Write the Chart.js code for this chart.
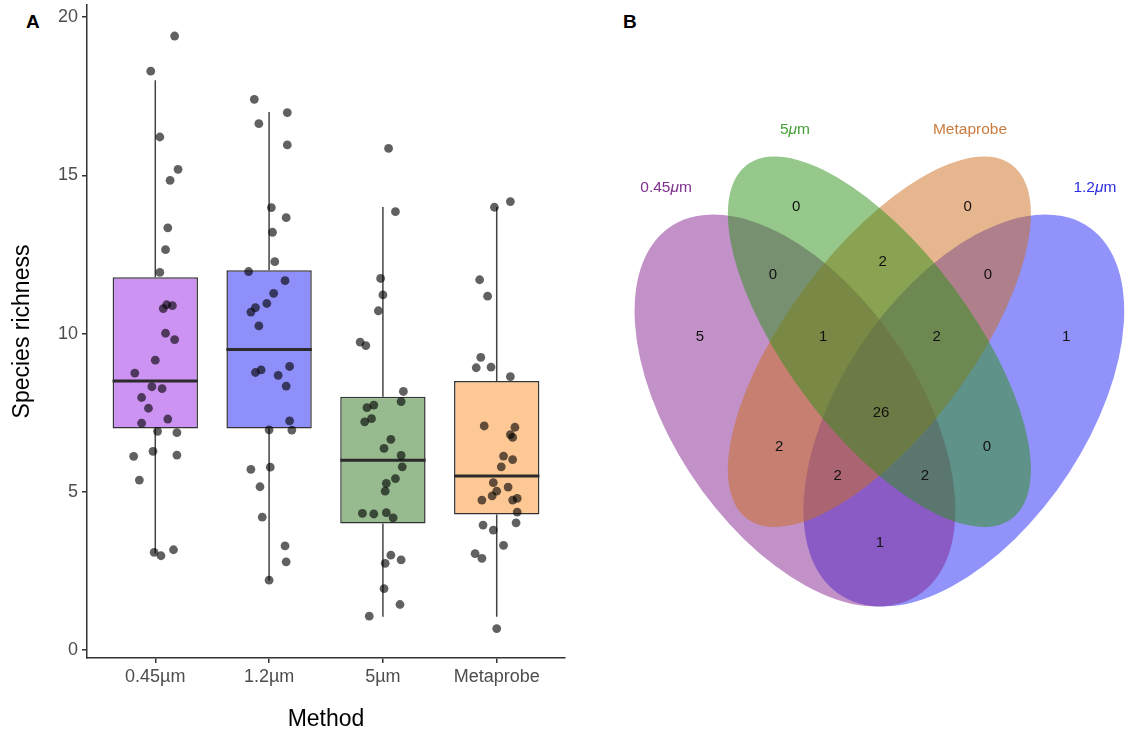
<!DOCTYPE html>
<html>
<head>
<meta charset="utf-8">
<script src="https://cdn.jsdelivr.net/npm/chart.js@4.4.1/dist/chart.umd.min.js"></script>
<style>
  body { margin: 0; background: #fff; width: 1129px; height: 733px; overflow: hidden; position: relative; font-family: "Liberation Sans", Arial, sans-serif; }
  canvas { position: absolute; top: 0; }
  #boxes { left: 0; }
  #venn { left: 598px; }
  .tag { position: absolute; font-weight: bold; font-size: 19px; color: #000; }
</style>
</head>
<body>
<div class="tag" style="left:26px;top:11px">A</div>
<div class="tag" style="left:623px;top:11px">B</div>
<canvas id="boxes" width="600" height="733"></canvas>
<canvas id="venn" width="531" height="733"></canvas>
<script>
const FONT = '"Liberation Sans", Arial, sans-serif';

// ---- panel A : species richness per method ----
const methods = ['0.45µm', '1.2µm', '5µm', 'Metaprobe'];
const yTicks = [0, 5, 10, 15, 20];

const boxQ1 = [7, 7, 4, 4.28];
const boxMedian = [8.5, 9.5, 6, 5.5];
const boxQ3 = [11.78, 12, 8, 8.5];
const whiskerLow = [3.05, 2.2, 1.05, 1.05];
const whiskerHigh = [18, 17, 14, 14];
const boxFill = ['#cd93f3', '#8e8ff9', '#97ba8f', '#fdc894'];

// sample values and their horizontal jitter (in category units)
const rich045 = [19.40, 18.29, 16.21, 15.19, 14.84, 13.34, 12.65, 11.93, 10.91, 10.88, 10.79, 10.01, 9.81, 9.16, 8.75, 8.32, 8.26, 7.98, 7.64, 7.17, 7.30, 6.91, 6.87, 6.28, 6.16, 6.12, 5.37, 3.09, 2.98, 3.17];
const jit045 = [0.17, -0.04, 0.04, 0.20, 0.13, 0.11, 0.09, 0.04, 0.10, 0.15, 0.07, 0.09, 0.17, 0.00, -0.18, -0.03, 0.06, -0.12, -0.06, -0.12, 0.11, 0.02, 0.19, -0.02, 0.19, -0.19, -0.14, -0.01, 0.05, 0.16];

const rich12 = [17.40, 16.98, 16.63, 15.96, 13.98, 13.66, 13.20, 12.27, 11.96, 11.67, 11.27, 10.95, 10.82, 10.68, 10.24, 8.96, 8.85, 8.77, 8.68, 8.34, 7.24, 6.96, 6.95, 5.71, 5.78, 5.16, 4.20, 3.29, 2.79, 2.21];
const jit12 = [-0.13, 0.16, -0.09, 0.16, 0.02, 0.15, 0.03, 0.05, -0.18, 0.14, 0.04, -0.02, -0.12, -0.16, -0.09, 0.18, -0.07, -0.12, 0.08, 0.15, 0.18, 0.00, 0.20, -0.16, 0.01, -0.08, -0.06, 0.14, 0.15, 0.00];

const rich5 = [15.85, 13.85, 11.74, 11.22, 10.72, 9.73, 9.62, 8.17, 7.85, 7.74, 7.66, 7.31, 7.21, 6.66, 6.37, 6.15, 5.79, 5.42, 5.27, 5.02, 4.32, 4.30, 4.34, 4.18, 3.00, 2.85, 2.74, 1.94, 1.44, 1.07];
const jit5 = [0.05, 0.11, -0.02, 0.00, -0.04, -0.20, -0.15, 0.18, 0.16, -0.08, -0.14, -0.10, -0.16, 0.07, 0.01, 0.16, 0.17, 0.11, 0.03, 0.02, -0.18, -0.08, 0.03, 0.09, 0.07, 0.16, 0.02, 0.01, 0.15, -0.12];

const richMeta = [14.17, 13.99, 11.70, 11.18, 9.25, 8.92, 8.94, 8.64, 7.08, 7.04, 6.81, 6.72, 6.13, 6.02, 5.79, 5.29, 5.15, 5.02, 4.87, 4.74, 4.74, 4.79, 4.36, 3.95, 4.02, 3.79, 3.31, 3.05, 2.90, 0.68];
const jitMeta = [0.12, -0.02, -0.15, -0.08, -0.14, -0.18, -0.05, 0.12, -0.11, 0.16, 0.12, 0.14, 0.06, 0.14, 0.04, -0.03, 0.10, 0.00, -0.04, -0.13, 0.14, 0.18, 0.18, -0.12, 0.17, -0.03, 0.06, -0.19, -0.13, 0.00];

const groups = [[rich045, jit045], [rich12, jit12], [rich5, jit5], [richMeta, jitMeta]];

// ---- panel B : shared species ----
const vennSets = ['0.45μm', '5μm', 'Metaprobe', '1.2μm'];
const vennSetColor = ['#80318f', '#44a035', '#c97c40', '#2b2be3'];
const vennFill = ['rgba(131,35,145,0.5)', 'rgba(45,145,25,0.5)', 'rgba(205,109,29,0.5)', 'rgba(35,39,245,0.5)'];
// region order: 0.45, 5, Meta, 1.2, 0.45+5, 5+Meta, Meta+1.2, 0.45+5+Meta, 5+Meta+1.2, all, 0.45+Meta, 5+1.2, 0.45+Meta+1.2, 0.45+5+1.2, 0.45+1.2
const vennCounts = [5, 0, 0, 1, 0, 2, 0, 1, 2, 26, 2, 0, 2, 2, 1];

// layout of the diagram (unit square of the venn panel)
const countPos = [[0.181, 0.577], [0.352, 0.766], [0.657, 0.766], [0.832, 0.577], [0.311, 0.667], [0.506, 0.686], [0.693, 0.667],
  [0.400, 0.577], [0.602, 0.577], [0.503, 0.466], [0.322, 0.417], [0.691, 0.417], [0.426, 0.375], [0.581, 0.375], [0.501, 0.277]];
const setLabelPos = [[0.121, 0.794], [0.350, 0.878], [0.661, 0.878], [0.883, 0.794]];
const ellipses = [
  { cx: 0.35, cy: 0.47, a: 0.35, b: 0.20, rot: -45 },
  { cx: 0.50, cy: 0.57, a: 0.35, b: 0.15, rot: -45 },
  { cx: 0.50, cy: 0.57, a: 0.35, b: 0.15, rot: 45 },
  { cx: 0.65, cy: 0.47, a: 0.35, b: 0.20, rot: 45 }
];
const drawOrder = [3, 0, 2, 1];

/* whiskers under the boxes, medians on top of them */
const boxPlugin = {
  id: 'boxParts',
  beforeDatasetsDraw(chart) {
    const { ctx, scales: { x, y } } = chart;
    ctx.save();
    ctx.strokeStyle = '#444';
    ctx.lineWidth = 1.5;
    methods.forEach((m, i) => {
      const px = x.getPixelForValue(i);
      ctx.beginPath();
      ctx.moveTo(px, y.getPixelForValue(boxQ3[i]));
      ctx.lineTo(px, y.getPixelForValue(whiskerHigh[i]));
      ctx.moveTo(px, y.getPixelForValue(boxQ1[i]));
      ctx.lineTo(px, y.getPixelForValue(whiskerLow[i]));
      ctx.stroke();
    });
    ctx.restore();
  },
  afterDatasetDraw(chart, args) {
    if (args.index !== 0) return;
    const { ctx, scales: { x, y } } = chart;
    ctx.save();
    ctx.strokeStyle = '#2b2b2b';
    ctx.lineWidth = 3;
    methods.forEach((m, i) => {
      const py = y.getPixelForValue(boxMedian[i]);
      ctx.beginPath();
      ctx.moveTo(x.getPixelForValue(i - 0.375), py);
      ctx.lineTo(x.getPixelForValue(i + 0.375), py);
      ctx.stroke();
    });
    ctx.restore();
  }
};

new Chart(document.getElementById('boxes'), {
  type: 'scatter',
  data: {
    datasets: [
      {
        type: 'bar',
        data: methods.map((m, i) => ({ x: i, y: [boxQ1[i], boxQ3[i]] })),
        backgroundColor: boxFill,
        borderColor: '#333',
        borderWidth: 1.5,
        borderSkipped: false,
        barPercentage: 0.75,
        categoryPercentage: 1,
        order: 2
      },
      ...groups.map((g, i) => ({
        type: 'scatter',
        data: g[0].map((v, k) => ({ x: i + g[1][k], y: v })),
        pointRadius: 4.4,
        pointBackgroundColor: 'rgba(0,0,0,0.62)',
        pointBorderWidth: 0,
        order: 1
      }))
    ]
  },
  options: {
    responsive: false,
    animation: false,
    layout: { padding: { top: 5, right: 35, bottom: 0, left: 0 } },
    plugins: { legend: { display: false }, tooltip: { enabled: false } },
    scales: {
      x: {
        type: 'linear', min: -0.6, max: 3.6, offset: false,
        afterBuildTicks: s => { s.ticks = methods.map((m, i) => ({ value: i })); },
        afterFit: s => { s.height = 75; s.paddingLeft = 0; s.paddingRight = 0; },
        ticks: { callback: v => methods[v], color: '#4d4d4d', font: { family: FONT, size: 18 }, padding: 3, maxRotation: 0, autoSkip: false },
        grid: { offset: false, drawOnChartArea: false, drawTicks: true, tickLength: 5, color: '#333', lineWidth: 1.5 },
        border: { color: '#333', width: 1.5 },
        title: { display: true, text: 'Method', color: '#000', font: { family: FONT, size: 23 }, padding: { top: 0, bottom: 0 } }
      },
      y: {
        min: -0.25, max: 20.38,
        afterBuildTicks: s => { s.ticks = yTicks.map(v => ({ value: v })); },
        afterFit: s => { s.width = 87; s.paddingTop = 0; s.paddingBottom = 0; },
        ticks: { color: '#4d4d4d', font: { family: FONT, size: 18 }, padding: 4 },
        grid: { drawOnChartArea: false, drawTicks: true, tickLength: 5, color: '#333', lineWidth: 1.5 },
        border: { color: '#333', width: 1.5 },
        title: { display: true, text: 'Species richness', color: '#000', font: { family: FONT, size: 23 }, padding: { top: 9, bottom: 0 } }
      }
    }
  },
  plugins: [boxPlugin]
});

function drawSetLabel(ctx, text, cx, cy, size, color) {
  const segs = [];
  text.split('μ').forEach((p, i) => {
    if (i > 0) segs.push({ t: 'μ', it: true });
    if (p) segs.push({ t: p, it: false });
  });
  let w = 0;
  segs.forEach(s => {
    ctx.font = (s.it ? 'italic ' : '') + size + 'px ' + FONT;
    s.w = ctx.measureText(s.t).width;
    w += s.w;
  });
  let xPos = cx - w / 2;
  ctx.fillStyle = color;
  ctx.textAlign = 'left';
  ctx.textBaseline = 'middle';
  segs.forEach(s => {
    ctx.font = (s.it ? 'italic ' : '') + size + 'px ' + FONT;
    ctx.fillText(s.t, xPos, cy);
    xPos += s.w;
  });
}

const vennPlugin = {
  id: 'venn',
  beforeDatasetsDraw(chart) {
    const { ctx, scales: { x, y } } = chart;
    const sx = x.getPixelForValue(1) - x.getPixelForValue(0);
    const sy = y.getPixelForValue(0) - y.getPixelForValue(1);
    drawOrder.forEach(i => {
      const e = ellipses[i];
      ctx.save();
      ctx.beginPath();
      ctx.translate(x.getPixelForValue(e.cx), y.getPixelForValue(e.cy));
      ctx.scale(sx, -sy);
      ctx.rotate(e.rot * Math.PI / 180);
      ctx.ellipse(0, 0, e.a, e.b, 0, 0, Math.PI * 2);
      ctx.restore();
      ctx.fillStyle = vennFill[i];
      ctx.fill();
    });
  },
  afterDatasetsDraw(chart) {
    const { ctx, scales: { x, y } } = chart;
    const meta = chart.getDatasetMeta(0);
    ctx.save();
    ctx.font = '15px ' + FONT;
    ctx.fillStyle = '#111';
    ctx.textAlign = 'center';
    ctx.textBaseline = 'middle';
    meta.data.forEach((pt, i) => ctx.fillText(String(vennCounts[i]), pt.x, pt.y));
    vennSets.forEach((s, i) => {
      drawSetLabel(ctx, s, x.getPixelForValue(setLabelPos[i][0]), y.getPixelForValue(setLabelPos[i][1]), 15.5, vennSetColor[i]);
    });
    ctx.restore();
  }
};

new Chart(document.getElementById('venn'), {
  type: 'scatter',
  data: { datasets: [{ data: countPos.map(p => ({ x: p[0], y: p[1] })), pointRadius: 0 }] },
  options: {
    responsive: false,
    animation: false,
    layout: { padding: { top: 46, bottom: 68, left: 0, right: 2 } },
    plugins: { legend: { display: false }, tooltip: { enabled: false } },
    scales: {
      x: { display: false, min: 0, max: 0.94 },
      y: { display: false, min: 0.1, max: 1.0 }
    }
  },
  plugins: [vennPlugin]
});
</script>
</body>
</html>
